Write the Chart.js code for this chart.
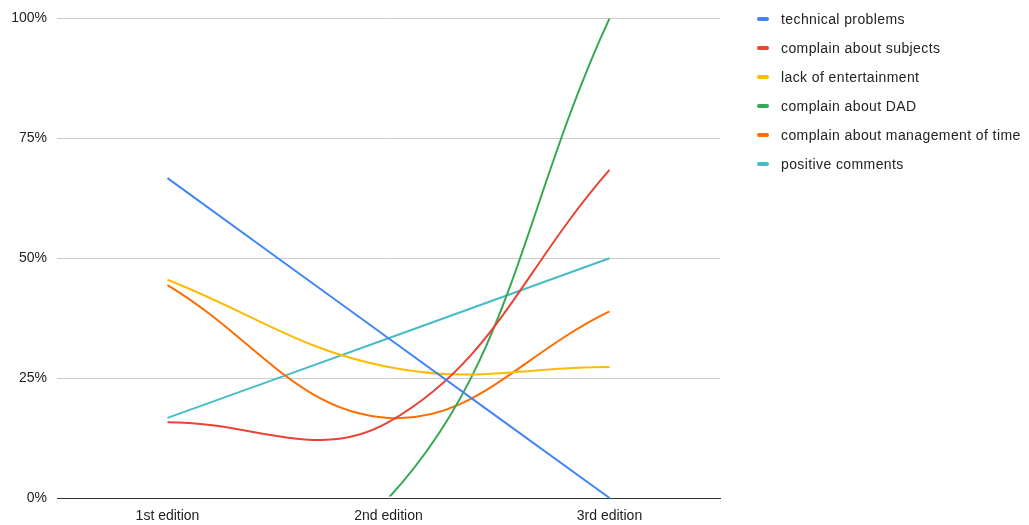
<!DOCTYPE html>
<html>
<head>
<meta charset="utf-8">
<script src="https://cdn.jsdelivr.net/npm/chart.js@4"></script>
<style>
  body { margin: 0; background: #fff; font-family: "Liberation Sans", Arial, sans-serif; }
  #wrap { position: relative; width: 1029px; height: 525px; }
  #legend { position: absolute; left: 757px; top: 4px; }
  .item { display: flex; align-items: center; height: 29px; font-size: 14px; letter-spacing: 0.4px; color: #222; white-space: nowrap; }
  .sw { width: 12px; height: 4px; border-radius: 2px; margin-right: 12px; }
</style>
</head>
<body>
<div id="wrap">
  <canvas id="chart" width="1029" height="525"></canvas>
  <div id="legend"></div>
</div>
<script>
const editions = ['1st edition', '2nd edition', '3rd edition'];
const yTicks = [0, 25, 50, 75, 100];

const technicalProblems = [66.7, 33.3, 0];
const complainSubjects = [15.8, 15.8, 68.4];
const lackEntertainment = [45.5, 27.3, 27.3];
const complainDAD = [0, 0, 100];
const complainTime = [44.4, 16.7, 38.9];
const positiveComments = [16.7, 33.3, 50];

const seriesNames = ['technical problems', 'complain about subjects', 'lack of entertainment',
  'complain about DAD', 'complain about management of time', 'positive comments'];
const seriesData = [technicalProblems, complainSubjects, lackEntertainment, complainDAD, complainTime, positiveComments];
const colors = ['#4285F4', '#EA4335', '#FBBC04', '#34A853', '#FF6D01', '#46BDC6'];

const datasets = seriesNames.map((name, i) => ({
  label: name,
  data: seriesData[i],
  borderColor: colors[i],
  backgroundColor: colors[i],
  borderWidth: 2,
  pointRadius: 0,
  tension: 0.4,
  clip: name === 'complain about DAD' ? { left: 0, top: 0, right: 0, bottom: -1.5 } : 3
}));

// html legend
const legend = document.getElementById('legend');
seriesNames.forEach((name, i) => {
  const row = document.createElement('div');
  row.className = 'item';
  row.innerHTML = '<span class="sw" style="background:' + colors[i] + '"></span><span>' + name + '</span>';
  legend.appendChild(row);
});

const ctx = document.getElementById('chart').getContext('2d');
new Chart(ctx, {
  type: 'line',
  data: { labels: editions, datasets: datasets },
  options: {
    responsive: false,
    animation: false,
    layout: { padding: { top: 18, right: 309, left: 0, bottom: 0 } },
    plugins: { legend: { display: false }, tooltip: { enabled: false } },
    scales: {
      x: {
        offset: true,
        grid: { display: false },
        border: { color: '#333', width: 1 },
        ticks: { color: '#222', font: { family: 'Liberation Sans', size: 14 }, padding: 2 },
        afterFit: s => { s.height = 27; }
      },
      y: {
        min: 0,
        max: 100,
        afterBuildTicks: s => { s.ticks = yTicks.map(v => ({ value: v })); },
        grid: { color: '#cccccc', tickLength: 0 },
        border: { display: false },
        ticks: { color: '#222', font: { family: 'Liberation Sans', size: 14 }, padding: 10, callback: v => v + '%' },
        afterFit: s => { s.width = 57; }
      }
    }
  }
});
</script>
</body>
</html>
